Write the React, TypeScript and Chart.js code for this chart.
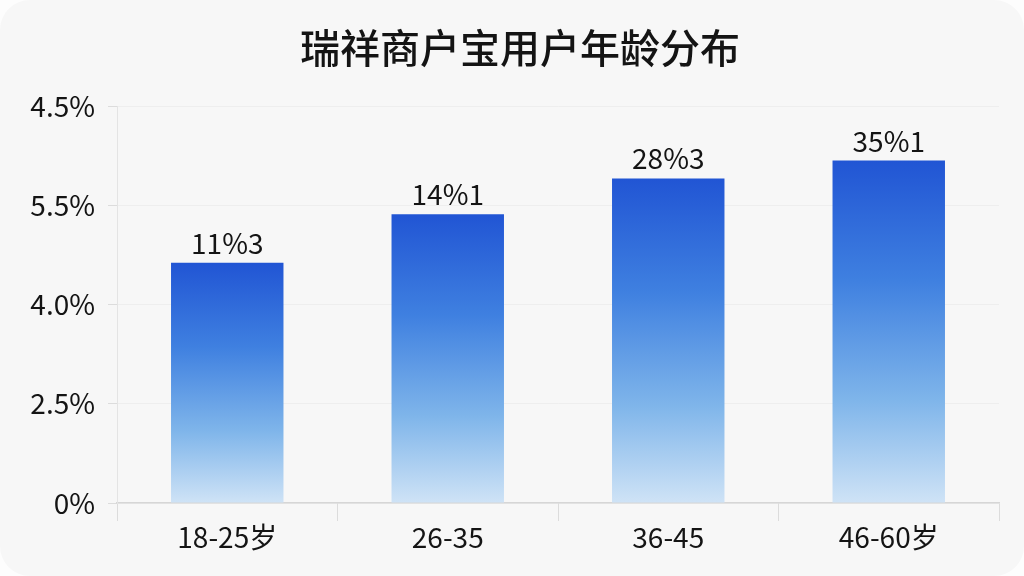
import { useRef, useEffect } from "react";
import { Chart, registerables } from "chart.js";

Chart.register(...registerables);

const titleText = "瑞祥商户宝用户年龄分布";
const ageGroups = ["18-25岁", "26-35", "36-45", "46-60岁"];
// bar heights in axis units (one unit per tick step)
const barValues = [2.42, 2.91, 3.27, 3.45];
const barLabels = ["11%3", "14%1", "28%3", "35%1"];
const yTickLabels = ["0%", "2.5%", "4.0%", "5.5%", "4.5%"];

const FONT = "'Noto Sans CJK SC', 'Noto Sans', sans-serif";

const barLabelPlugin = {
  id: "barLabels",
  afterDatasetsDraw(chart: any) {
    const ctx = chart.ctx;
    const meta = chart.getDatasetMeta(0);
    ctx.save();
    ctx.font = `28px ${FONT}`;
    ctx.fillStyle = "#141414";
    ctx.textAlign = "center";
    ctx.textBaseline = "alphabetic";
    meta.data.forEach((bar: any, i: number) => {
      ctx.fillText(barLabels[i], bar.x, bar.y - 9);
    });
    ctx.restore();
  },
};

// title centred on the card rather than on the chart box
const titlePlugin = {
  id: "cardTitle",
  afterDraw(chart: any) {
    const ctx = chart.ctx;
    ctx.save();
    ctx.font = `500 40px ${FONT}`;
    ctx.fillStyle = "#141414";
    ctx.textAlign = "center";
    ctx.textBaseline = "middle";
    ctx.fillText(titleText, 520, 48);
    ctx.restore();
  },
};

export default function App() {
  const chartRef = useRef<HTMLCanvasElement | null>(null);
  const chartInstanceRef = useRef<Chart | null>(null);

  useEffect(() => {
    if (!chartRef.current) return;
    const ctx = chartRef.current.getContext("2d");
    if (!ctx) return;
    if (chartInstanceRef.current) chartInstanceRef.current.destroy();

    chartInstanceRef.current = new Chart(ctx, {
      type: "bar",
      data: {
        labels: ageGroups,
        datasets: [
          {
            data: barValues,
            barPercentage: 0.51,
            categoryPercentage: 1,
            borderWidth: 0,
            backgroundColor: (c: any) => {
              const chart = c.chart;
              const area = chart.chartArea;
              if (!area || c.dataIndex === undefined) return "#3a78dc";
              const yScale = chart.scales.y;
              const top = yScale.getPixelForValue(barValues[c.dataIndex]);
              const bottom = yScale.getPixelForValue(0);
              const g = chart.ctx.createLinearGradient(0, top, 0, bottom);
              g.addColorStop(0, "#2155d4");
              g.addColorStop(0.35, "#3f80e0");
              g.addColorStop(0.7, "#7fb5ea");
              g.addColorStop(1, "#cfe3f6");
              return g;
            },
          },
        ],
      },
      options: {
        animation: false,
        responsive: true,
        maintainAspectRatio: false,
        layout: { padding: { top: 106, right: 25, bottom: 0, left: 0 } },
        plugins: {
          legend: { display: false },
          tooltip: { enabled: false },
          title: { display: false },
        },
        scales: {
          x: {
            offset: true,
            grid: {
              display: true,
              offset: true,
              drawOnChartArea: false,
              tickLength: 18,
              color: "#dcdcdc",
            },
            border: { color: "#d6d6d6", width: 1.5 },
            ticks: {
              color: "#141414",
              padding: 0,
              font: { family: FONT, size: 28 },
            },
            afterFit: (scale: any) => {
              scale.height = 73;
            },
          },
          y: {
            min: 0,
            max: 4,
            ticks: {
              stepSize: 1,
              color: "#141414",
              padding: 13,
              font: { family: FONT, size: 28 },
              callback: (_v: any, i: number) => yTickLabels[i],
            },
            grid: {
              color: "rgba(0,0,0,0.035)",
              tickLength: 9,
              tickColor: "#dcdcdc",
            },
            border: { color: "#e4e4e4", width: 1 },
            afterFit: (scale: any) => {
              scale.width = 117;
            },
          },
        },
      } as any,
      plugins: [barLabelPlugin, titlePlugin],
    });

    return () => {
      if (chartInstanceRef.current) {
        chartInstanceRef.current.destroy();
        chartInstanceRef.current = null;
      }
    };
  }, []);

  return (
    <div style={{ position: "fixed", inset: 0, background: "#fdfdfd" }}>
      <div
        style={{
          position: "absolute",
          inset: 0,
          borderRadius: 30,
          background: "#f7f7f7",
        }}
      >
        <canvas ref={chartRef} />
      </div>
    </div>
  );
}
